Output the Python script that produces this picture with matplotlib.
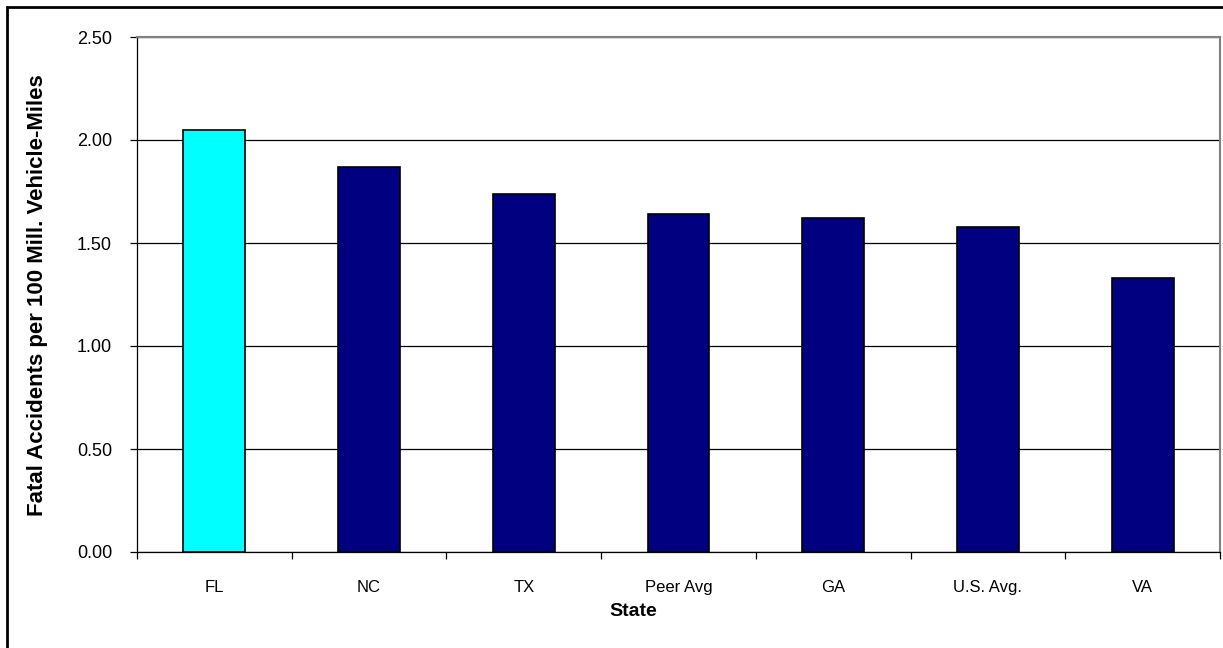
import matplotlib.pyplot as plt
from matplotlib.patches import Rectangle
import numpy as np

plt.rcParams['font.family'] = ['Liberation Sans', 'DejaVu Sans']

### Data ###
states = ['FL', 'NC', 'TX', 'Peer Avg', 'GA', 'U.S. Avg.', 'VA']
fatal_rate = [2.05, 1.87, 1.74, 1.64, 1.62, 1.58, 1.33]
bar_colors = ['#00FFFF', '#000080', '#000080', '#000080', '#000080', '#000080', '#000080']

### Plotting ###
W, H = 1223, 648
fig = plt.figure(figsize=(W / 100, H / 100), dpi=100)
ax = fig.add_axes([137 / W, 1 - 552 / H, (1220 - 137) / W, (552 - 37) / H])

x = np.arange(len(states))
ax.bar(x, fatal_rate, width=0.4, color=bar_colors, edgecolor='black', linewidth=1.2, zorder=3)

ax.set_xlim(-0.5, len(states) - 0.5)
ax.set_ylim(0, 2.5)
ax.set_yticks(np.arange(0, 2.51, 0.5))
ax.set_yticklabels(['%.2f' % v for v in np.arange(0, 2.51, 0.5)])
ax.yaxis.grid(True, color='black', linewidth=0.9, zorder=0)

# category labels in the middle, tick marks on the boundaries
ax.set_xticks(x)
ax.set_xticklabels(states)
ax.set_xticks(np.arange(-0.5, len(states), 1), minor=True)
ax.tick_params(axis='x', which='major', length=0, pad=20, labelsize=12)
ax.tick_params(axis='x', which='minor', length=5, width=0.9, direction='out')
ax.tick_params(axis='y', length=5, width=0.9, direction='out', pad=13, labelsize=13)

for side in ['left', 'bottom']:
    ax.spines[side].set_color('black')
    ax.spines[side].set_linewidth(0.9)
for side in ['top', 'right']:
    ax.spines[side].set_color('#808080')
    ax.spines[side].set_linewidth(1.5)

fig.text(633 / W, 1 - 611 / H, 'State', ha='center', va='center',
         fontsize=14, fontweight='bold')
fig.text(38 / W, 1 - 295 / H, 'Fatal Accidents per 100 Mill. Vehicle-Miles', rotation=90,
         ha='center', va='center', fontsize=16, fontweight='bold')

# outer chart border
fig.patches.append(Rectangle((7 / W, -0.1), 1.2, 1 - 7 / H + 0.1, transform=fig.transFigure,
                             fill=False, edgecolor='black', linewidth=2))

fig.savefig('out.png', dpi=100)
